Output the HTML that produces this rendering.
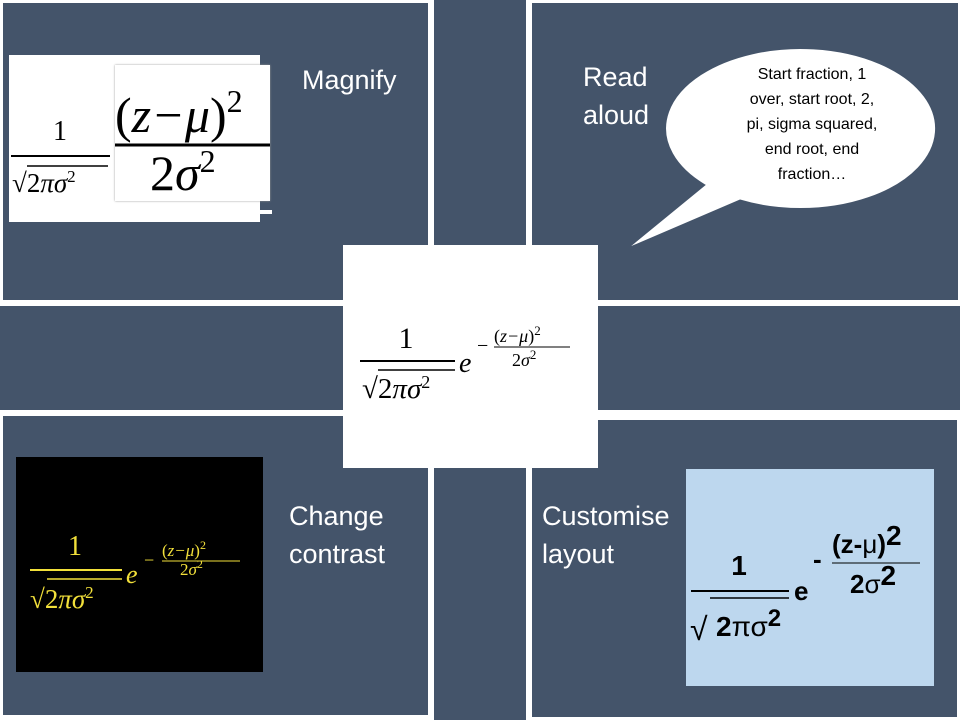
<!DOCTYPE html>
<html><head><meta charset="utf-8"><style>
body{margin:0;width:960px;height:720px;background:#fff;position:relative;overflow:hidden;font-family:"Liberation Sans",sans-serif}
.p{position:absolute;background:#44546A}
.t{position:absolute;color:#fff;font-size:27px;line-height:38px;font-family:"Liberation Sans","DejaVu Sans",sans-serif}
svg{position:absolute;left:0;top:0}
</style></head><body>
<div class="p" style="left:3px;top:3px;width:425px;height:297px"></div>
<div class="p" style="left:434px;top:0;width:92px;height:245px"></div>
<div class="p" style="left:532px;top:3px;width:426px;height:297px"></div>
<div class="p" style="left:0;top:306px;width:343px;height:104px"></div>
<div class="p" style="left:598px;top:306px;width:362px;height:104px"></div>
<div class="p" style="left:3px;top:416px;width:425px;height:299px"></div>
<div class="p" style="left:434px;top:468px;width:92px;height:252px"></div>
<div class="p" style="left:532px;top:420px;width:425px;height:297px"></div>
<div style="position:absolute;left:343px;top:245px;width:255px;height:223px;background:#fff"></div>
<div style="position:absolute;left:9px;top:55px;width:251px;height:167px;background:#fff"></div>
<div style="position:absolute;left:115px;top:65px;width:155px;height:136px;background:#fff;box-shadow:0 0 2px #999"></div>
<div style="position:absolute;left:260px;top:210px;width:12px;height:4px;background:#fff"></div>
<div style="position:absolute;left:16px;top:457px;width:247px;height:215px;background:#000"></div>
<div style="position:absolute;left:686px;top:469px;width:248px;height:217px;background:#BDD7EE"></div>
<div class="t" style="left:302px;top:61px">Magnify</div>
<div class="t" style="left:583px;top:58px">Read<br>aloud</div>
<div class="t" style="left:289px;top:497px">Change<br>contrast</div>
<div class="t" style="left:542px;top:497px">Customise<br>layout</div>
<svg width="960" height="720" font-family="'Liberation Serif',serif">
<path d="M705,185 A135,80 0 1,1 740,200 L628,248 Z" fill="#fff" stroke="#44546A" stroke-width="1"/>
<text font-family="Liberation Sans,sans-serif" font-size="16" fill="#000" text-anchor="middle">
<tspan x="812" y="79">Start fraction, 1</tspan><tspan x="812" y="104">over, start root, 2,</tspan><tspan x="812" y="129">pi, sigma squared,</tspan><tspan x="812" y="154">end root, end</tspan><tspan x="812" y="179">fraction…</tspan></text>
<!-- magnify -->
<text x="60" y="140" font-size="28" text-anchor="middle">1</text>
<line x1="11" y1="156" x2="110" y2="156" stroke="#000" stroke-width="2"/>
<line x1="27" y1="166" x2="108" y2="166" stroke="#000" stroke-width="1.5"/>
<text x="12" y="192" font-size="27">√2<tspan font-style="italic">πσ</tspan><tspan font-size="17" dy="-10">2</tspan></text>
<text x="115" y="132" font-size="50"><tspan>(</tspan><tspan font-style="italic">z−μ</tspan>)<tspan font-size="32" dy="-20">2</tspan></text>
<line x1="115" y1="145" x2="270" y2="145" stroke="#000" stroke-width="3"/>
<text x="150" y="190" font-size="50">2<tspan font-style="italic">σ</tspan><tspan font-size="32" dy="-18">2</tspan></text>
<!-- center -->
<text x="406" y="348" font-size="30" text-anchor="middle">1</text>
<line x1="360" y1="361" x2="455" y2="361" stroke="#000" stroke-width="2"/>
<line x1="378" y1="370" x2="455" y2="370" stroke="#000" stroke-width="1.5"/>
<text x="362" y="398" font-size="29">√2<tspan font-style="italic">πσ</tspan><tspan font-size="18" dy="-10">2</tspan></text>
<text x="459" y="372" font-size="28" font-style="italic">e</text>
<text x="477" y="352" font-size="20">−</text>
<text x="494" y="342" font-size="18">(<tspan font-style="italic">z−μ</tspan>)<tspan font-size="13" dy="-7">2</tspan></text>
<line x1="494" y1="347" x2="570" y2="347" stroke="#000" stroke-width="1"/>
<text x="512" y="366" font-size="18">2<tspan font-style="italic">σ</tspan><tspan font-size="13" dy="-7">2</tspan></text>
<!-- contrast -->
<g fill="#F2E03A">
<text x="75" y="555" font-size="28" text-anchor="middle">1</text>
<text x="30" y="608" font-size="27">√2<tspan font-style="italic">πσ</tspan><tspan font-size="17" dy="-10">2</tspan></text>
<text x="126" y="583" font-size="26" font-style="italic">e</text>
<text x="144" y="566" font-size="18">−</text>
<text x="162" y="556" font-size="17">(<tspan font-style="italic">z−μ</tspan>)<tspan font-size="12" dy="-7">2</tspan></text>
<text x="180" y="575" font-size="17">2<tspan font-style="italic">σ</tspan><tspan font-size="12" dy="-7">2</tspan></text>
</g>
<line x1="30" y1="570" x2="122" y2="570" stroke="#F2E03A" stroke-width="2"/>
<line x1="47" y1="579" x2="122" y2="579" stroke="#F2E03A" stroke-width="1.5"/>
<line x1="162" y1="561" x2="240" y2="561" stroke="#F2E03A" stroke-width="1"/>
<!-- customise -->
<g font-family="'Liberation Sans',sans-serif" font-weight="bold" fill="#000">
<text x="739" y="575" font-size="28" text-anchor="middle">1</text>
<text x="690" y="640" font-size="32" font-weight="normal">√</text>
<text x="716" y="636" font-size="28">2<tspan font-weight="normal">πσ</tspan><tspan font-size="24" dy="-10">2</tspan></text>
<text x="794" y="600" font-size="26">e</text>
<text x="813" y="568" font-size="26">-</text>
<text x="832" y="553" font-size="26">(z-<tspan font-weight="normal">μ</tspan>)<tspan font-size="28" dy="-8">2</tspan></text>
<text x="850" y="593" font-size="26">2<tspan font-weight="normal">σ</tspan><tspan dy="-8" font-size="28">2</tspan></text>
</g>
<line x1="691" y1="591" x2="789" y2="591" stroke="#000" stroke-width="2"/>
<line x1="710" y1="598" x2="789" y2="598" stroke="#000" stroke-width="1.5"/>
<line x1="832" y1="563" x2="920" y2="563" stroke="#000" stroke-width="1"/>
</svg>
</body></html>
